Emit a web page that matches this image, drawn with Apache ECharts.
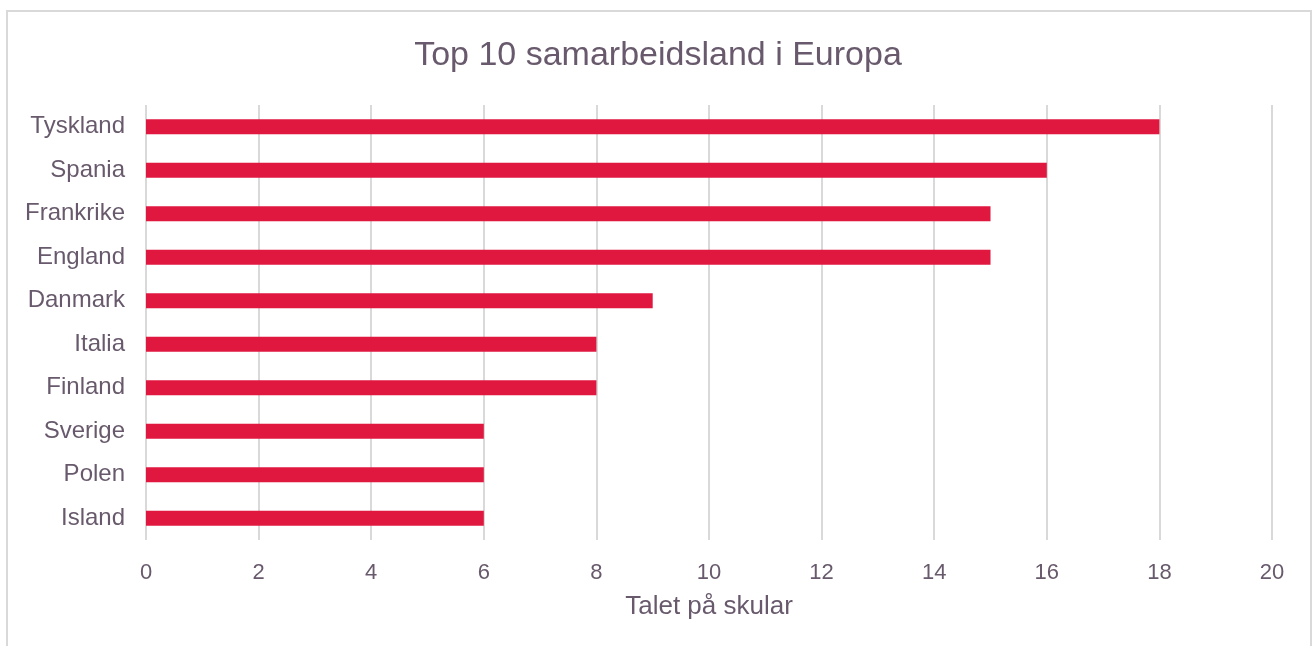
<!DOCTYPE html>
<html>
<head>
<meta charset="utf-8">
<script src="https://cdn.jsdelivr.net/npm/echarts@6/dist/echarts.min.js"></script>
<style>
  html, body { margin: 0; padding: 0; background: #fff; overflow: hidden; }
  #frame {
    position: absolute; left: 6px; top: 10px; width: 1306px; height: 660px;
    border: 2px solid #d9d9d9; box-sizing: border-box;
  }
  #chart { position: absolute; left: 0; top: 0; width: 1316px; height: 646px; }
</style>
</head>
<body>
<div id="frame"></div>
<div id="chart"></div>
<script>
// data
const countries = ['Tyskland', 'Spania', 'Frankrike', 'England', 'Danmark', 'Italia', 'Finland', 'Sverige', 'Polen', 'Island'];
const schools = [18, 16, 15, 15, 9, 8, 8, 6, 6, 6];
const xTicks = [0, 2, 4, 6, 8, 10, 12, 14, 16, 18, 20];

const textColor = '#685a6c';
const font = 'Liberation Sans, Arial, sans-serif';

const myChart = echarts.init(document.getElementById('chart'));
const option = {
  animation: false,
  title: {
    text: 'Top 10 samarbeidsland i Europa',
    left: 'center',
    top: 34,
    textStyle: { color: textColor, fontSize: 34, fontWeight: 'normal', fontFamily: font }
  },
  grid: { left: 146, right: 44, top: 105, bottom: 106, containLabel: false },
  xAxis: {
    type: 'value',
    min: xTicks[0],
    max: xTicks[xTicks.length - 1],
    interval: 2,
    name: 'Talet på skular',
    nameLocation: 'middle',
    nameGap: 54,
    nameTextStyle: { color: textColor, fontSize: 26, fontFamily: font },
    axisLine: { show: false },
    axisTick: { show: false },
    axisLabel: { color: textColor, fontSize: 22, fontFamily: font, margin: 22 },
    splitLine: { show: true, lineStyle: { color: '#d9d9d9', width: 2 } }
  },
  yAxis: {
    type: 'category',
    data: countries,
    inverse: true,
    axisLine: { show: false },
    axisTick: { show: false },
    axisLabel: { color: textColor, fontSize: 24, fontFamily: font, margin: 21, padding: [4, 0, 0, 0] },
    splitLine: { show: false }
  },
  series: [{
    type: 'bar',
    data: schools,
    barWidth: 15,
    itemStyle: { color: '#e0173f' }
  }]
};
myChart.setOption(option);
</script>
</body>
</html>
